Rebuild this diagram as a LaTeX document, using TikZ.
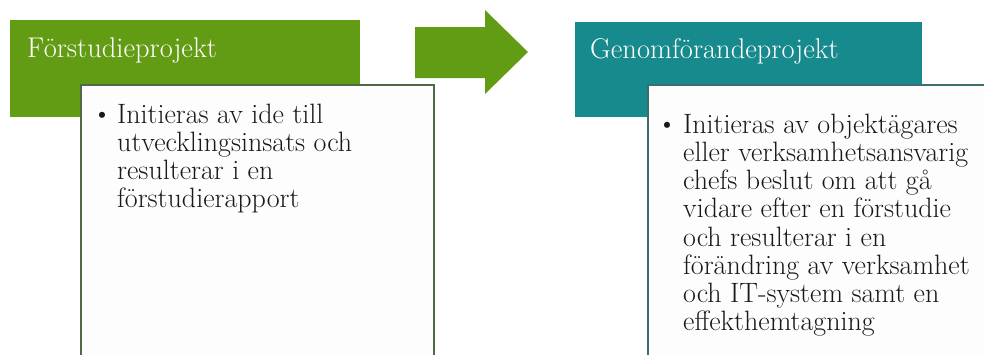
\documentclass[tikz,border=0pt]{standalone}
\definecolor{leafgreen}{RGB}{98,156,20}
\definecolor{tealhead}{RGB}{22,138,140}
\definecolor{greenedge}{RGB}{80,105,70}
\definecolor{tealedge}{RGB}{60,110,112}
\definecolor{paper}{RGB}{252,253,252}
\definecolor{ink}{RGB}{25,25,25}
\tikzset{
  header/.style={fill=#1, draw=none},
  card/.style={fill=paper, draw=#1, line width=1.8pt},
  headtext/.style={anchor=base west, inner sep=0pt, text=white, font=\fontsize{28.5}{30}\selectfont},
  bodytext/.style={anchor=north west, inner sep=0pt, align=left, font=\fontsize{28}{28.2}\selectfont, text=ink},
  bulletmark/.style={anchor=base, inner sep=0pt, font=\fontsize{27}{28}\selectfont, text=ink},
}
\begin{document}
\begin{tikzpicture}[x=1pt, y=-1pt]
  \useasboundingbox[fill=white] (0,0) rectangle (984,354);
  % header bars
  \path[header=leafgreen] (10,20) rectangle (360,117);
  \path[header=tealhead] (575,22) rectangle (922,117);
  % block arrow between the two phases
  \fill[leafgreen] (415,27) -- (485,27) -- (485,10) -- (528,52) -- (485,94) -- (485,78) -- (415,78) -- cycle;
  % cards
  \path[card=greenedge] (81,85) rectangle (434,362);
  \path[card=tealedge] (648,85) rectangle (1000,362);
  % header titles
  \node[headtext] (h1) at (27,57) {Förstudieprojekt};
  \node[headtext] (h2) at (590,58) {Genomförandeprojekt};
  % bullet lists
  \node[bulletmark] (b1) at (102,122) {\textbullet};
  \node[bodytext] (t1) at (117,103.6) {Initieras av ide till\\utvecklingsinsats och\\resulterar i en\\förstudierapport};
  \node[bulletmark] (b2) at (667,132) {\textbullet};
  \node[bodytext] (t2) at (683,113.6) {Initieras av objektägares\\eller verksamhetsansvarig\\chefs beslut om att gå\\vidare efter en förstudie\\och resulterar i en\\förändring av verksamhet\\och IT-system samt en\\effekthemtagning};
\end{tikzpicture}
\end{document}
